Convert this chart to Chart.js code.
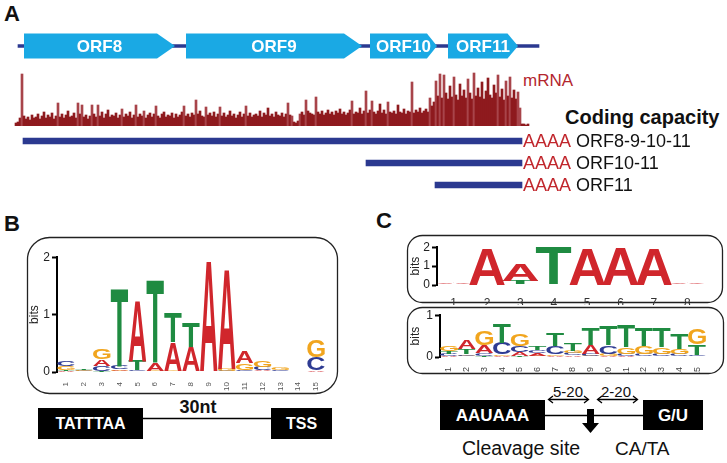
<!DOCTYPE html>
<html>
<head>
<meta charset="utf-8">
<script src="https://cdn.jsdelivr.net/npm/chart.js@4.4.1/dist/chart.umd.min.js"></script>
<style>
body { margin: 0; width: 727px; height: 463px; background: #fff; position: relative; overflow: hidden; font-family: "Liberation Sans", Arial, sans-serif; }
canvas { position: absolute; }
svg { position: absolute; left: 0; top: 0; }
</style>
</head>
<body>
<svg width="727" height="463" font-family="Liberation Sans, Arial, sans-serif">
  <text x="4" y="21" font-size="22" font-weight="bold" fill="#111">A</text>
  <text x="523" y="86" font-size="17" fill="#b3262e">mRNA</text>
  <text x="565" y="124" font-size="20" font-weight="bold" fill="#111">Coding capacity</text>

  <text x="4" y="231" font-size="22" font-weight="bold" fill="#111">B</text>
  <rect x="27.5" y="237.5" width="310" height="156" rx="22" fill="none" stroke="#222" stroke-width="1.3"/>
  <line x1="143" y1="418.5" x2="271" y2="418.5" stroke="#000" stroke-width="1.3"/>
  <rect x="38" y="408" width="105" height="31" fill="#000"/>
  <text x="90.5" y="429" text-anchor="middle" font-size="16" font-weight="bold" fill="#fff">TATTTAA</text>
  <rect x="271" y="408" width="61" height="31" fill="#000"/>
  <text x="301.5" y="429" text-anchor="middle" font-size="16" font-weight="bold" fill="#fff">TSS</text>
  <text x="198" y="413" text-anchor="middle" font-size="18" font-weight="bold" fill="#111">30nt</text>

  <text x="376" y="228" font-size="22" font-weight="bold" fill="#111">C</text>
  <rect x="407.5" y="235.5" width="315" height="67" rx="15" fill="none" stroke="#222" stroke-width="1.3"/>
  <rect x="407.5" y="307.5" width="316" height="66" rx="15" fill="none" stroke="#222" stroke-width="1.3"/>
  <line x1="545" y1="415.5" x2="643" y2="415.5" stroke="#000" stroke-width="1.3"/>
  <rect x="440" y="400" width="105" height="30" fill="#000"/>
  <text x="492.5" y="421" text-anchor="middle" font-size="17" font-weight="bold" fill="#fff">AAUAAA</text>
  <rect x="643" y="400" width="60" height="30" fill="#000"/>
  <text x="673" y="421" text-anchor="middle" font-size="17" font-weight="bold" fill="#fff">G/U</text>
  <rect x="587" y="409" width="7" height="14" fill="#000"/>
  <polygon points="582,423 599,423 590.5,433" fill="#000"/>
  <g stroke="#000" stroke-width="1.3" fill="none">
    <line x1="549" y1="399.5" x2="588" y2="399.5"/>
    <polyline points="553,396 548.5,399.5 553,403"/>
    <polyline points="584,396 588.5,399.5 584,403"/>
    <line x1="598" y1="399.5" x2="637" y2="399.5"/>
    <polyline points="602,396 597.5,399.5 602,403"/>
    <polyline points="633,396 637.5,399.5 633,403"/>
  </g>
  <text x="568" y="397" text-anchor="middle" font-size="15" fill="#111">5-20</text>
  <text x="616" y="397" text-anchor="middle" font-size="15" fill="#111">2-20</text>
  <text x="462" y="455" font-size="19.5" fill="#111">Cleavage site</text>
  <text x="615" y="455" font-size="19" fill="#111">CA/TA</text>
</svg>

<canvas id="orfTrack" width="535" height="30" style="left:10px;top:31px"></canvas>
<canvas id="coverage" width="535" height="56" style="left:10px;top:70px"></canvas>
<canvas id="transcripts" width="717" height="66" style="left:10px;top:130px"></canvas>
<canvas id="logoB" width="308" height="144" style="left:20px;top:248px"></canvas>
<canvas id="logoPAS" width="302" height="67" style="left:405px;top:238px"></canvas>
<canvas id="logoDSE" width="305" height="67" style="left:405px;top:306px"></canvas>

<script>
Chart.defaults.font.family = '"Liberation Sans", Arial, sans-serif';

// ---- panel A: genome coordinates (nt) ----
var genomeSpan = [30, 5240];
var orfNames = ["ORF8", "ORF9", "ORF10", "ORF11"];
var orfStart = [90, 1710, 3550, 4330];
var orfEnd = [1600, 3470, 4220, 5030];

// mRNA read coverage, 20 nt bins from position 0
var coverageBin = 20;
var coverage = [
    3, 4, 8, 52, 10, 7, 9, 6, 11, 8,
    9, 12, 7, 10, 14, 8, 11, 9, 13, 7,
    10, 23, 9, 12, 8, 11, 15, 9, 10, 13,
    8, 23, 12, 21, 9, 11, 7, 10, 21, 12,
    9, 21, 10, 14, 8, 12, 16, 9, 11, 10,
    13, 8, 11, 17, 9, 12, 10, 14, 8, 11,
    21, 9, 12, 10, 15, 8, 11, 13, 9, 12,
    20, 10, 8, 12, 14, 9, 11, 10, 13, 8,
    12, 9, 11, 14, 20, 10, 12, 9, 13, 11,
    26, 12, 15, 10, 9, 19, 11, 13, 10, 14,
    9, 12, 19, 10, 13, 9, 11, 15, 10, 12,
    8, 11, 14, 9, 12, 20, 10, 13, 9, 11,
    12, 10, 15, 9, 13, 11, 18, 10, 12, 9,
    14, 11, 10, 13, 9, 12, 23, 11, 10, 4,
    3, 5, 12, 14, 11, 26, 15, 13, 12, 11,
    29, 14, 12, 15, 11, 13, 16, 12, 14, 11,
    15, 13, 17, 12, 14, 11, 13, 16, 25, 12,
    14, 13, 18, 12, 15, 35, 13, 16, 25, 14,
    12, 15, 22, 13, 16, 12, 24, 14, 13, 15,
    12, 21, 14, 13, 17, 12, 15, 14, 44, 13,
    16, 14, 18, 13, 15, 17, 14, 28, 20, 24,
    45, 30, 52, 28, 51, 33, 27, 40, 29, 49,
    31, 26, 42, 30, 36, 28, 47, 33, 27, 53,
    30, 38, 29, 44, 27, 35, 48, 31, 28, 41,
    33, 51, 29, 37, 26, 45, 30, 49, 28, 36,
    27, 34, 18, 2, 2, 1, 2
];

var transcriptNames = ["ORF8-9-10-11", "ORF10-11", "ORF11"];
var transcriptStart = [80, 3510, 4200];
var transcriptEnd = [5070, 5070, 5070];

// ---- panel B: TATA box logo (bits) ----
var promoterPos = ["1","2","3","4","5","6","7","8","9","10","11","12","13","14","15"];
var promoterA = [0.02, 0.01, 0.12, 0.03, 1.07, 0.13, 0.50, 0.43, 1.92, 1.74, 0.20, 0.02, 0.01, 0, 0.03];
var promoterC = [0.10, 0.01, 0.08, 0.06, 0.02, 0.01, 0.01, 0.01, 0, 0.02, 0.03, 0.06, 0.03, 0, 0.23];
var promoterG = [0.07, 0.01, 0.17, 0.02, 0.01, 0.01, 0.01, 0, 0.01, 0.04, 0.12, 0.11, 0.04, 0, 0.29];
var promoterT = [0.02, 0.01, 0.02, 1.35, 0.17, 1.45, 0.51, 0.43, 0, 0, 0.01, 0.01, 0, 0, 0];

// ---- panel C: poly(A) signal logo (bits) ----
var pasPos = ["1","2","3","4","5","6","7","8"];
var pasA = [0.04, 1.95, 0.90, 0, 1.96, 1.96, 1.96, 0.04];
var pasC = [0.01, 0, 0.03, 0, 0, 0.02, 0, 0.01];
var pasG = [0.02, 0, 0, 0, 0, 0, 0, 0.02];
var pasT = [0.01, 0, 0.20, 1.98, 0, 0, 0, 0.01];

// ---- panel C: downstream element logo (bits) ----
var dsePos = ["1","2","3","4","5","6","7","8","9","10","11","12","13","14","15"];
var dseA = [0.03, 0.20, 0.18, 0.03, 0.08, 0.07, 0.03, 0.04, 0.20, 0.03, 0.03, 0.02, 0.02, 0.02, 0.02];
var dseC = [0.05, 0.04, 0.07, 0.27, 0.15, 0.07, 0.20, 0.05, 0.05, 0.20, 0.05, 0.05, 0.06, 0.05, 0.03];
var dseG = [0.13, 0.03, 0.35, 0.03, 0.27, 0.03, 0.04, 0.06, 0.03, 0.05, 0.15, 0.20, 0.15, 0.12, 0.36];
var dseT = [0.06, 0.12, 0.03, 0.45, 0.03, 0.10, 0.32, 0.17, 0.40, 0.47, 0.52, 0.42, 0.46, 0.38, 0.25];

var orfColor = "#1aa9e4";
var navy = "#2b3990";
var polyAColor = "#c1272d";
var coverageColor = "#8e1a1e";
var spikeColor = "#a8444a";
var letterColor = { A: "#d0262c", C: "#2e3b92", G: "#f1a51e", T: "#1f8b41" };

var xMin = -50, xMax = 5300;

function baseOptions() {
    return {
        responsive: false,
        animation: false,
        plugins: { legend: { display: false }, tooltip: { enabled: false } }
    };
}

// ORF arrows drawn inside each floating bar's box
var orfArrows = {
    id: "orfArrows",
    afterDatasetsDraw: function(chart) {
        var ctx = chart.ctx;
        ctx.save();
        chart.getDatasetMeta(0).data.forEach(function(bar, i) {
            var x0 = bar.base, x1 = bar.x;
            var top = bar.y - bar.height / 2, bot = bar.y + bar.height / 2;
            var head = Math.min(18, (x1 - x0) * 0.15);
            ctx.fillStyle = orfColor;
            ctx.beginPath();
            ctx.moveTo(x0, top);
            ctx.lineTo(x1 - head, top);
            ctx.lineTo(x1, bar.y);
            ctx.lineTo(x1 - head, bot);
            ctx.lineTo(x0, bot);
            ctx.closePath();
            ctx.fill();
            ctx.fillStyle = "#fff";
            ctx.font = 'bold 17px "Liberation Sans"';
            ctx.textAlign = "center";
            ctx.textBaseline = "middle";
            ctx.fillText(orfNames[i], (x0 + x1) / 2, bar.y + 1);
        });
        ctx.restore();
    }
};

new Chart(document.getElementById("orfTrack"), {
    type: "bar",
    data: {
        labels: ["genome"],
        datasets: [{
            data: orfStart.map(function(s, i) { return { x: [s, orfEnd[i]], y: "genome" }; }),
            backgroundColor: "rgba(0,0,0,0)",
            barThickness: 25,
            grouped: false
        }, {
            data: [{ x: genomeSpan, y: "genome" }],
            backgroundColor: navy,
            barThickness: 3,
            grouped: false
        }]
    },
    options: Object.assign(baseOptions(), {
        indexAxis: "y",
        layout: { padding: 0 },
        scales: {
            x: { type: "linear", min: xMin, max: xMax, display: false },
            y: { display: false }
        }
    }),
    plugins: [orfArrows]
});

new Chart(document.getElementById("coverage"), {
    type: "bar",
    data: {
        datasets: [{
            data: coverage.map(function(v, i) { return { x: i * coverageBin + coverageBin / 2, y: v }; }),
            // isolated peaks look lighter, as thin spikes do in the original
            backgroundColor: function(c) {
                var i = c.dataIndex, v = coverage[i];
                var n = Math.min(coverage[i - 1] || v, coverage[i + 1] || v);
                return v > n * 1.6 + 2 ? spikeColor : coverageColor;
            },
            borderWidth: 0,
            barPercentage: 1,
            categoryPercentage: 1
        }]
    },
    options: Object.assign(baseOptions(), {
        layout: { padding: 0 },
        scales: {
            x: { type: "linear", min: xMin, max: xMax, offset: false, display: false },
            y: { min: 0, max: 56, display: false }
        }
    })
});

// poly(A) tail and coding capacity after each transcript
var transcriptLabels = {
    id: "transcriptLabels",
    afterDatasetsDraw: function(chart) {
        var ctx = chart.ctx;
        ctx.save();
        ctx.font = '18px "Liberation Sans"';
        ctx.textBaseline = "middle";
        chart.getDatasetMeta(0).data.forEach(function(bar, i) {
            var x = bar.x + 1;
            ctx.fillStyle = polyAColor;
            ctx.fillText("AAAA", x, bar.y + 1);
            var w = ctx.measureText("AAAA ").width;
            ctx.fillStyle = "#111";
            ctx.fillText(chart.data.labels[i], x + w, bar.y + 1);
        });
        ctx.restore();
    }
};

new Chart(document.getElementById("transcripts"), {
    type: "bar",
    data: {
        labels: transcriptNames,
        datasets: [{
            data: transcriptStart.map(function(s, i) { return [s, transcriptEnd[i]]; }),
            backgroundColor: navy,
            barThickness: 6
        }]
    },
    options: Object.assign(baseOptions(), {
        indexAxis: "y",
        layout: { padding: { left: 0, top: 0, bottom: 0, right: 182 } },
        scales: {
            x: { type: "linear", min: xMin, max: xMax, display: false },
            y: { display: false }
        }
    }),
    plugins: [transcriptLabels]
});

// ---- sequence logos ----
function drawGlyph(ctx, ch, cx, y, w, h, color) {
    ctx.save();
    ctx.font = 'bold 100px "Liberation Sans"';
    ctx.textAlign = "left";
    ctx.textBaseline = "alphabetic";
    var m = ctx.measureText(ch);
    var gw = m.actualBoundingBoxLeft + m.actualBoundingBoxRight;
    var gh = m.actualBoundingBoxAscent + m.actualBoundingBoxDescent;
    ctx.translate(cx - w / 2, y);
    ctx.scale(w / gw, h / gh);
    ctx.fillStyle = color;
    ctx.fillText(ch, m.actualBoundingBoxLeft, m.actualBoundingBoxAscent);
    ctx.restore();
}

var logoLetters = {
    id: "logoLetters",
    afterDatasetsDraw: function(chart, args, opts) {
        var ctx = chart.ctx;
        var widen = opts.widen || 1;
        chart.data.datasets.forEach(function(ds, i) {
            chart.getDatasetMeta(i).data.forEach(function(bar, j) {
                var h = bar.base - bar.y;
                if (h < 0.4) return;
                var l = ds.letters[j];
                drawGlyph(ctx, l, bar.x, bar.y, bar.width * widen, h, letterColor[l]);
            });
        });
    }
};

// stack letters per column, smallest at the bottom
function logoDatasets(cols) {
    var bases = ["A", "C", "G", "T"];
    var ranks = bases.map(function() { return { data: [], letters: [] }; });
    for (var j = 0; j < cols.A.length; j++) {
        var col = bases.map(function(b) { return [b, cols[b][j]]; });
        col.sort(function(a, b) { return a[1] - b[1]; });
        col.forEach(function(c, r) {
            ranks[r].data.push(c[1]);
            ranks[r].letters.push(c[0]);
        });
    }
    return ranks.map(function(r) {
        return {
            data: r.data, letters: r.letters,
            backgroundColor: "rgba(0,0,0,0)", borderWidth: 0,
            barPercentage: 0.96, categoryPercentage: 1, stack: "logo"
        };
    });
}

function logoChart(id, labels, cols, o) {
    var opts = Object.assign(baseOptions(), {
        layout: { padding: { top: o.padTop, right: o.padRight, left: 0, bottom: 0 } },
        scales: {
            x: {
                stacked: true,
                grid: { display: false },
                border: { display: false },
                ticks: { font: { size: o.xFont }, color: o.xColor, padding: o.xPad,
                         minRotation: o.rot, maxRotation: o.rot, autoSkip: false },
                afterFit: function(s) { s.height = o.xHeight; }
            },
            y: {
                stacked: true, min: 0, max: o.max,
                ticks: { stepSize: 1, font: { size: 12 }, color: "#222", padding: 2 },
                grid: { drawOnChartArea: false, tickLength: 5, tickWidth: 2, tickColor: "#000" },
                border: { color: "#000", width: 2 },
                title: { display: true, text: "bits", font: { size: 12 }, color: "#222", padding: { top: o.titlePad, bottom: 0 } },
                afterFit: function(s) { s.width = o.yWidth; }
            }
        }
    });
    opts.plugins.logoLetters = { widen: o.widen };
    return new Chart(document.getElementById(id), {
        type: "bar",
        data: { labels: labels, datasets: logoDatasets(cols) },
        options: opts,
        plugins: [logoLetters]
    });
}

logoChart("logoB", promoterPos, { A: promoterA, C: promoterC, G: promoterG, T: promoterT },
    { max: 2, padTop: 8, padRight: 3, yWidth: 37, xHeight: 20, xFont: 8, xColor: "#555", xPad: 2, rot: 90, titlePad: 7, widen: 1.02 });
logoChart("logoPAS", pasPos, { A: pasA, C: pasC, G: pasG, T: pasT },
    { max: 2, padTop: 7, padRight: 3, yWidth: 32, xHeight: 20, xFont: 12, xColor: "#333", xPad: 3, rot: 0, titlePad: 3, widen: 1.12 });
logoChart("logoDSE", dsePos, { A: dseA, C: dseC, G: dseG, T: dseT },
    { max: 1, padTop: 7, padRight: 3, yWidth: 35, xHeight: 16, xFont: 9, xColor: "#444", xPad: 2, rot: 90, titlePad: 3, widen: 1.05 });
</script>
</body>
</html>
